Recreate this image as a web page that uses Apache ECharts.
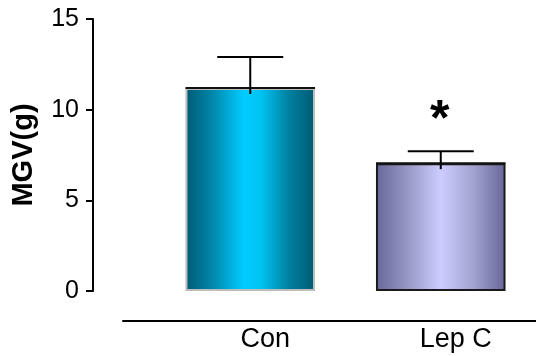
<!DOCTYPE html>
<html>
<head>
<meta charset="utf-8">
<script src="https://cdn.jsdelivr.net/npm/echarts@6/dist/echarts.min.js"></script>
<style>
  html, body { margin: 0; padding: 0; background: #fff; }
  #chart { width: 536px; height: 356px; }
</style>
</head>
<body>
<div id="chart"></div>
<script>
// Group names, means, error bar heights and significance marks
const categories = ['Con', 'Lep C'];
const means = [11.2, 7.05];
const errors = [1.7, 0.65];
const marks = ['', '*'];

// Axis range
const yMin = 0;
const yMax = 15;
const yStep = 5;

const FONT = 'Liberation Sans, Arial, Helvetica, sans-serif';

// Horizontal gradient fills for each bar
const fills = [
  new echarts.graphic.LinearGradient(0, 0, 1, 0, [
    { offset: 0, color: '#005a74' },
    { offset: 0.2, color: '#0085a8' },
    { offset: 0.45, color: '#00ccff' },
    { offset: 0.58, color: '#00c4f4' },
    { offset: 0.8, color: '#00809f' },
    { offset: 1, color: '#005a74' }
  ]),
  new echarts.graphic.LinearGradient(0, 0, 1, 0, [
    { offset: 0, color: '#666699' },
    { offset: 0.25, color: '#9999c6' },
    { offset: 0.5, color: '#ccccff' },
    { offset: 0.75, color: '#a3a3d0' },
    { offset: 1, color: '#666699' }
  ])
];
const borders = ['#bdbdbd', '#1a1a1a'];

const barData = means.map((v, i) => ({
  value: v,
  itemStyle: { color: fills[i], borderColor: borders[i], borderWidth: 2 }
}));

const errData = means.map((v, i) => [i, v, errors[i], marks[i]]);

const chart = echarts.init(document.getElementById('chart'), null, { renderer: 'canvas' });

chart.setOption({
  animation: false,
  backgroundColor: '#ffffff',
  grid: [
    { left: 155, width: 383, top: 19, bottom: 65 },
    { left: 123, right: 0, top: 320, height: 1 }
  ],
  xAxis: [
    {
      type: 'category',
      gridIndex: 0,
      data: categories,
      axisLine: { show: false },
      axisTick: { show: false },
      axisLabel: {
        margin: 35,
        color: '#000',
        fontFamily: FONT,
        fontSize: 27,
        formatter: v => '{a|' + v + '}',
        rich: { a: { fontFamily: FONT, fontSize: 27, color: '#000', padding: [0, 0, 0, 30] } }
      }
    },
    {
      type: 'category',
      gridIndex: 1,
      data: categories,
      axisLine: { show: true, lineStyle: { color: '#000', width: 2 } },
      axisTick: { show: false },
      axisLabel: { show: false }
    }
  ],
  yAxis: [
    {
      type: 'value',
      gridIndex: 0,
      min: yMin,
      max: yMax,
      interval: yStep,
      offset: 62,
      name: 'MGV(g)',
      nameLocation: 'middle',
      nameRotate: 90,
      nameGap: 55,
      nameTextStyle: { fontFamily: FONT, fontSize: 29, fontWeight: 'bold', color: '#000' },
      axisLine: { show: true, lineStyle: { color: '#000', width: 2 } },
      axisTick: { show: true, length: 7, lineStyle: { color: '#000', width: 2 } },
      axisLabel: { margin: 14, color: '#000', fontFamily: FONT, fontSize: 25 },
      splitLine: { show: false }
    },
    {
      type: 'value',
      gridIndex: 1,
      show: false
    }
  ],
  series: [
    {
      type: 'bar',
      xAxisIndex: 0,
      yAxisIndex: 0,
      barWidth: '68%',
      data: barData
    },
    {
      type: 'custom',
      xAxisIndex: 0,
      yAxisIndex: 0,
      data: errData,
      z: 5,
      renderItem: function (params, api) {
        const i = api.value(0);
        const mean = api.value(1);
        const err = api.value(2);
        const mark = marks[i];
        const base = api.coord([i, mean]);
        const top = api.coord([i, mean + err]);
        const band = api.size([1, 0])[0];
        const halfBar = band * 0.68 / 2;
        const halfCap = 33;
        const style = { stroke: '#000', lineWidth: 2 };
        const children = [
          { type: 'line', shape: { x1: base[0] - halfBar, y1: base[1], x2: base[0] + halfBar, y2: base[1] }, style: { stroke: '#111', lineWidth: 2 } },
          { type: 'line', shape: { x1: base[0], y1: base[1] + 6, x2: top[0], y2: top[1] }, style: style },
          { type: 'line', shape: { x1: top[0] - halfCap, y1: top[1], x2: top[0] + halfCap, y2: top[1] }, style: style }
        ];
        if (mark) {
          children.push({
            type: 'text',
            style: {
              text: mark,
              x: top[0] - 1,
              y: top[1] - 30,
              align: 'center',
              verticalAlign: 'middle',
              fontFamily: FONT,
              fontSize: 50,
              fontWeight: 'bold',
              fill: '#000'
            }
          });
        }
        return { type: 'group', children: children };
      }
    }
  ]
});
</script>
</body>
</html>
